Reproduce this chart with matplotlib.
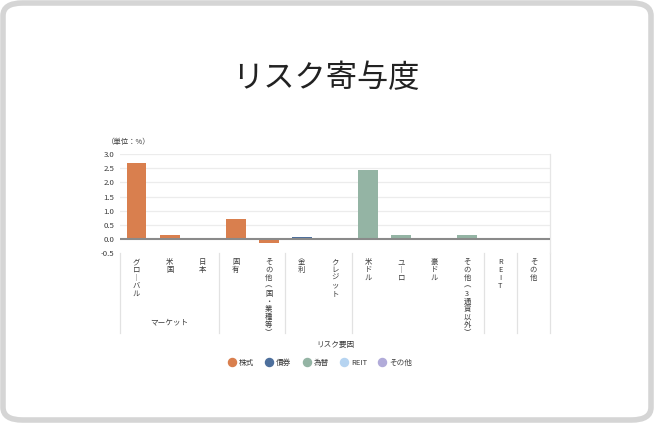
import matplotlib
matplotlib.use("Agg")
import matplotlib.pyplot as plt
from matplotlib.patches import FancyBboxPatch
from matplotlib.lines import Line2D

plt.rcParams['font.family'] = ['Noto Sans CJK JP', 'DejaVu Sans']

title = "リスク寄与度"
unit_label = "（単位：%）"
categories = ["グローバル", "米国", "日本", "固有", "その他︵国・業種等︶",
              "金利", "クレジット", "米ドル", "ユーロ", "豪ドル",
              "その他︵3通貨以外︶", "REIT", "その他"]
series_of_cat = ["株式", "株式", "株式", "株式", "株式",
                 "債券", "債券", "為替", "為替", "為替", "為替",
                 "REIT", "その他"]
values = [2.70, 0.15, 0.02, 0.71, -0.15,
          0.06, 0.01, 2.44, 0.13, 0.0, 0.13,
          0.0, 0.0]
series_names = ["株式", "債券", "為替", "REIT", "その他"]
series_colors = ["#d97f4e", "#4d6f9c", "#94b4a4", "#b6d4f1", "#b1abd9"]
group_bounds = [-0.5, 2.5, 4.5, 6.5, 10.5, 11.5, 12.5]
group_labels = [(1, "マーケット")]
yticks = [-0.5, 0.0, 0.5, 1.0, 1.5, 2.0, 2.5, 3.0]
xlabel = "リスク要因"

W, H = 654, 423
fig = plt.figure(figsize=(W / 100, H / 100), dpi=100)

# outer rounded border
border = FancyBboxPatch((3 / W, 3 / H), 1 - 6 / W, 1 - 6 / H,
                        boxstyle="round,pad=0,rounding_size=0.03",
                        transform=fig.transFigure, facecolor="none",
                        edgecolor="#d5d5d5", linewidth=4, zorder=-1)
fig.patches.append(border)

fig.text(326 / W, 1 - 78 / H, title, ha="center", va="center",
         fontsize=22.5, color="#222222")

ax = fig.add_axes([120 / W, 1 - 252.8 / H, 430 / W, (252.8 - 154.3) / H])
ax.set_facecolor("none")
color_map = dict(zip(series_names, series_colors))
xs = list(range(len(categories)))
ax.bar(xs, values, width=0.6, color=[color_map[s] for s in series_of_cat],
       zorder=3)
ax.set_xlim(-0.5, len(categories) - 0.5)
ax.set_ylim(-0.5, 3.0)
ax.set_yticks(yticks)
ax.set_yticklabels([f"{v:.1f}" for v in yticks], fontsize=5.6, color="#3a3a3a")
ax.tick_params(axis="y", length=0, pad=4)
ax.set_xticks([])
for y in yticks[2:]:
    ax.axhline(y, color="#ececec", linewidth=0.9, zorder=1)
ax.axhline(0, color="#8a8a8a", linewidth=1.5, zorder=4)
for s in ["left", "top", "bottom"]:
    ax.spines[s].set_visible(False)
ax.spines["right"].set_color("#e6e6e6")
ax.spines["right"].set_linewidth(0.9)

# group dividers below the plot
tr = ax.get_xaxis_transform()
for b in group_bounds:
    ax.add_line(Line2D([b, b], [0, -0.81], transform=tr, color="#e2e2e2",
                       linewidth=0.9, clip_on=False))

# vertical (tategaki) category labels
for i, c in enumerate(categories):
    txt = "\n".join(list(c.replace("ー", "︱")))
    ax.text(i, -0.055, txt, transform=tr, ha="center", va="top",
            fontsize=5.3, color="#3a3a3a", linespacing=0.98)

for i, lab in group_labels:
    ax.text(i, -0.71, lab, transform=tr, ha="center", va="center",
            fontsize=5.5, color="#3a3a3a")

fig.text(129 / W, 1 - 142 / H, unit_label, ha="center", va="center",
         fontsize=5.3, color="#3a3a3a")
fig.text(335 / W, 1 - 345 / H, xlabel, ha="center", va="center",
         fontsize=5.5, color="#3a3a3a")

handles = [Line2D([], [], marker="o", linestyle="", markersize=5.8,
                  markerfacecolor=c, markeredgecolor=c) for c in series_colors]
fig.legend(handles, series_names, loc="center", bbox_to_anchor=(320 / W, 1 - 363 / H),
           ncol=5, frameon=False, fontsize=5.5, handletextpad=0.4,
           columnspacing=1.5, labelcolor="#3a3a3a", handlelength=1.0)

fig.savefig("out.png", dpi=100)
